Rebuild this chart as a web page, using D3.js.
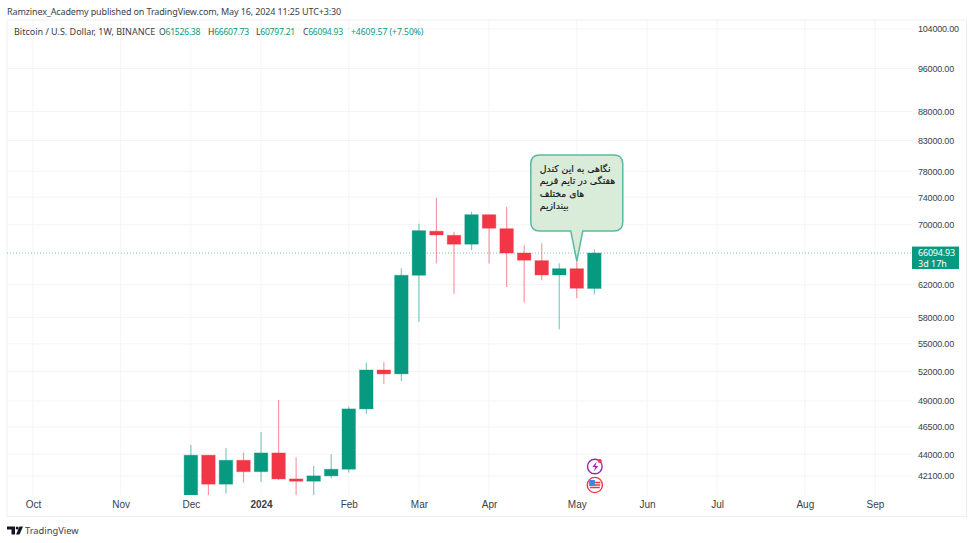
<!DOCTYPE html>
<html>
<head>
<meta charset="utf-8">
<script src="https://cdn.jsdelivr.net/npm/d3@7"></script>
<style>
    html, body { margin: 0; padding: 0; background: #fff; }
    svg { display: block; font-family: "Noto Sans", sans-serif; }
    .axis text { font-size: 10px; fill: #3a3e48; }
    .axis .domain { display: none; }
    .price-axis text { font-size: 9px; letter-spacing: -0.2px; }
    .legend-text { font-size: 8.6px; letter-spacing: -0.25px; }
</style>
</head>
<body>
<div id="chart"></div>
<script>
// weekly candles
var weeks = ["2023-12-04", "2023-12-11", "2023-12-18", "2023-12-25", "2024-01-01", "2024-01-08",
    "2024-01-15", "2024-01-22", "2024-01-29", "2024-02-05", "2024-02-12", "2024-02-19",
    "2024-02-26", "2024-03-04", "2024-03-11", "2024-03-18", "2024-03-25", "2024-04-01",
    "2024-04-08", "2024-04-15", "2024-04-22", "2024-04-29", "2024-05-06", "2024-05-13"];
var opens = [39970, 43910, 41410, 43460, 42470, 44110, 41850, 41660, 42110, 42680, 48220, 52170,
    51760, 63190, 69080, 68510, 67290, 71430, 69440, 66100, 65090, 63230, 64040, 61526.38];
var highs = [44830, 43910, 44530, 44140, 46030, 49110, 43700, 42970, 44000, 48440, 52930, 53030,
    64090, 70150, 73890, 69020, 71870, 71430, 72600, 67140, 67410, 64750, 65700, 66607.73];
var lows = [39970, 40200, 40630, 41540, 41600, 41770, 40280, 38550, 41910, 42390, 47730, 50720,
    51030, 57530, 64750, 60880, 66510, 64700, 61710, 59790, 62560, 56660, 60320, 60797.21];
var closes = [43910, 41410, 43460, 42470, 44110, 41850, 41660, 42110, 42680, 48220, 52170, 51760,
    63190, 69160, 68560, 67290, 71430, 69500, 66100, 65150, 63230, 64040, 61550, 66094.93];

// axis ticks
var priceTicks = [104000, 96000, 88000, 83000, 78000, 74000, 70000, 62000, 58000, 55000, 52000, 49000, 46500, 44000, 42100];
var timeTicks = ["2023-10-02", "2023-11-06", "2023-12-04", "2024-01-01", "2024-02-05", "2024-03-04",
    "2024-04-01", "2024-05-06", "2024-06-03", "2024-07-01", "2024-08-05", "2024-09-02"];
var timeLabels = ["Oct", "Nov", "Dec", "2024", "Feb", "Mar", "Apr", "May", "Jun", "Jul", "Aug", "Sep"];

// header texts
var publishedText = "Ramzinex_Academy published on TradingView.com, May 16, 2024 11:25 UTC+3:30";
var symbolText = "Bitcoin / U.S. Dollar, 1W, BINANCE";
var ohlcLabels = ["O", "H", "L", "C"];
var ohlcValues = ["61526.38", "66607.73", "60797.21", "66094.93"];
var changeText = "+4609.57 (+7.50%)";

// last price and note
var lastPrice = 66094.93;
var lastPriceLabel = "66094.93";
var countdownLabel = "3d 17h";
var noteLines = ["نگاهی به این کندل", "هفتگی در تایم فریم", "های مختلف", "بیندازیم"];

function init() {
    var w = 974;
    var h = 543;
    var left = 7;
    var right = 966.5;
    var top = 20;
    var plotRight = 912;
    var plotBottom = 495;
    var frameBottom = 516.5;
    var green = "#089981";
    var red = "#f23645";
    var gridColor = "#f3f4f7";
    var parseDate = d3.utcParse("%Y-%m-%d");

    var svg = d3.select("#chart").append("svg")
        .attr("width", w)
        .attr("height", h);

    var xScale = d3.scaleUtc()
        .domain([parseDate(timeTicks[0]), parseDate(timeTicks[timeTicks.length - 1])])
        .range([33, 875]);

    var yScale = d3.scaleLog()
        .domain([104000, 42100])
        .range([29, 476]);

    svg.append("clipPath").attr("id", "plot-clip")
        .append("rect")
        .attr("x", left)
        .attr("y", top)
        .attr("width", plotRight - left)
        .attr("height", plotBottom - top);

    // outer frame
    svg.append("path")
        .attr("d", "M" + left + "," + frameBottom + "V" + top + "H" + right + "V" + frameBottom + "H" + left)
        .attr("fill", "none")
        .attr("stroke", "#eeeff3");

    // grid
    svg.selectAll(".h-grid")
        .data(priceTicks)
        .enter()
        .append("line")
        .attr("class", "h-grid")
        .attr("x1", left)
        .attr("x2", plotRight)
        .attr("y1", function (d) { return yScale(d); })
        .attr("y2", function (d) { return yScale(d); })
        .attr("stroke", gridColor);

    svg.selectAll(".v-grid")
        .data(timeTicks)
        .enter()
        .append("line")
        .attr("class", "v-grid")
        .attr("x1", function (d) { return xScale(parseDate(d)); })
        .attr("x2", function (d) { return xScale(parseDate(d)); })
        .attr("y1", top)
        .attr("y2", plotBottom)
        .attr("stroke", gridColor);

    // axes
    var yAxis = d3.axisRight(yScale)
        .tickValues(priceTicks)
        .tickSize(0)
        .tickPadding(6)
        .tickFormat(d3.format(".2f"));

    svg.append("g")
        .attr("class", "axis price-axis")
        .attr("transform", "translate(" + plotRight + ",0)")
        .call(yAxis);

    var xAxis = d3.axisBottom(xScale)
        .tickValues(timeTicks.map(function (d) { return parseDate(d); }))
        .tickSize(0)
        .tickPadding(6)
        .tickFormat(function (d, i) { return timeLabels[i]; });

    var xAxisG = svg.append("g")
        .attr("class", "axis")
        .attr("transform", "translate(0," + plotBottom + ")")
        .call(xAxis);

    xAxisG.selectAll("text")
        .style("font-weight", function (d, i) { return timeLabels[i] === "2024" ? "700" : "400"; });

    // last price dotted line
    svg.append("line")
        .attr("x1", left)
        .attr("x2", plotRight)
        .attr("y1", yScale(lastPrice))
        .attr("y2", yScale(lastPrice))
        .attr("stroke", green)
        .attr("stroke-opacity", 0.55)
        .attr("stroke-dasharray", "1 2");

    // candles
    var candles = weeks.map(function (d, i) {
        return { date: parseDate(d), open: opens[i], high: highs[i], low: lows[i], close: closes[i] };
    });
    var bodyWidth = 13.5;
    var candleG = svg.append("g").attr("clip-path", "url(#plot-clip)");

    candleG.selectAll(".wick")
        .data(candles)
        .enter()
        .append("line")
        .attr("class", "wick")
        .attr("x1", function (d) { return xScale(d.date); })
        .attr("x2", function (d) { return xScale(d.date); })
        .attr("y1", function (d) { return yScale(d.high); })
        .attr("y2", function (d) { return yScale(d.low); })
        .attr("stroke", function (d) { return d.close >= d.open ? green : red; })
        .attr("stroke-opacity", 0.5)
        .attr("stroke-width", 1.2);

    candleG.selectAll(".body")
        .data(candles)
        .enter()
        .append("rect")
        .attr("class", "body")
        .attr("x", function (d) { return xScale(d.date) - bodyWidth / 2; })
        .attr("width", bodyWidth)
        .attr("y", function (d) { return yScale(Math.max(d.open, d.close)); })
        .attr("height", function (d) { return Math.abs(yScale(d.open) - yScale(d.close)); })
        .attr("fill", function (d) { return d.close >= d.open ? green : red; })
        .attr("stroke", function (d) { return d.close >= d.open ? green : red; })
        .attr("stroke-opacity", 0.35)
        .attr("stroke-width", 1);

    // note balloon, tip sits on the May 6 candle
    var tipX = xScale(parseDate("2024-05-06"));
    var tipY = yScale(65700) + 5;
    var bx = tipX - 46;
    var bw = 92;
    var by = tipY - 106;
    var bh = 76;
    var r = 9;
    svg.append("path")
        .attr("d", "M" + (bx + r) + "," + by + "H" + (bx + bw - r)
            + "Q" + (bx + bw) + "," + by + " " + (bx + bw) + "," + (by + r)
            + "V" + (by + bh - r)
            + "Q" + (bx + bw) + "," + (by + bh) + " " + (bx + bw - r) + "," + (by + bh)
            + "H" + (tipX + 6) + "L" + tipX + "," + tipY + "L" + (tipX - 6) + "," + (by + bh)
            + "H" + (bx + r)
            + "Q" + bx + "," + (by + bh) + " " + bx + "," + (by + bh - r)
            + "V" + (by + r)
            + "Q" + bx + "," + by + " " + (bx + r) + "," + by + "Z")
        .attr("fill", "#d8ecd9")
        .attr("stroke", "#5cb9a0")
        .attr("stroke-width", 1.5);

    svg.selectAll(".note-line")
        .data(noteLines)
        .enter()
        .append("text")
        .attr("class", "note-line")
        .attr("x", bx + 9)
        .attr("y", function (d, i) { return by + 17 + i * 12.3; })
        .attr("direction", "rtl")
        .attr("text-anchor", "end")
        .style("font-family", '"DejaVu Sans", sans-serif')
        .style("font-size", "9.3px")
        .attr("fill", "#131722")
        .attr("stroke", "#131722")
        .attr("stroke-width", 0.2)
        .text(function (d) { return d; });

    // last price tag
    svg.append("rect")
        .attr("x", plotRight)
        .attr("y", yScale(lastPrice) - 6.5)
        .attr("width", 47)
        .attr("height", 22.5)
        .attr("fill", green);

    var tagText = svg.append("text")
        .attr("y", yScale(lastPrice) + 3.2)
        .attr("fill", "#fff")
        .style("font-size", "9px");

    tagText.append("tspan")
        .attr("x", 918)
        .style("letter-spacing", "-0.2px")
        .text(lastPriceLabel);

    tagText.append("tspan")
        .attr("x", 918)
        .attr("dy", 10.3)
        .text(countdownLabel);

    // header
    svg.append("text")
        .attr("x", 7)
        .attr("y", 15)
        .attr("fill", "#3a3e48")
        .style("font-size", "9px")
        .style("letter-spacing", "-0.13px")
        .text(publishedText);

    svg.append("text")
        .attr("x", 14)
        .attr("y", 35)
        .attr("fill", "#3a3e48")
        .style("font-size", "9px")
        .text(symbolText);

    var ohlcX = [159, 208, 256, 303];
    ohlcLabels.forEach(function (label, i) {
        var t = svg.append("text")
            .attr("class", "legend-text")
            .attr("x", ohlcX[i])
            .attr("y", 35);
        t.append("tspan").attr("fill", "#3a3e48").text(label);
        t.append("tspan").attr("fill", green).text(ohlcValues[i]);
    });

    svg.append("text")
        .attr("class", "legend-text")
        .attr("x", 351)
        .attr("y", 35)
        .attr("fill", green)
        .style("letter-spacing", "-0.05px")
        .text(changeText);

    // event badges under the May 13 candle
    var iconX = xScale(parseDate("2024-05-13")) + 0.5;
    svg.append("circle").attr("cx", iconX).attr("cy", 466.5).attr("r", 7.3)
        .attr("fill", "#fff").attr("stroke", "#9c27b0").attr("stroke-width", 1.4);
    svg.append("path")
        .attr("d", "M" + (iconX + 2) + ",461.5l-4.5,5.5h3l-1.5,4.5l4.5,-5.5h-3z")
        .attr("fill", "#9c27b0");
    svg.append("circle").attr("cx", iconX + 5).attr("cy", 461).attr("r", 2)
        .attr("fill", "#f23645");

    svg.append("circle").attr("cx", iconX).attr("cy", 485).attr("r", 7.6)
        .attr("fill", "#fff").attr("stroke", "#f23645").attr("stroke-width", 1.4);
    svg.append("path")
        .attr("d", "M" + (iconX - 5.5) + ",482.5h11M" + (iconX - 5.5) + ",485h11M" + (iconX - 5) + ",487.5h10")
        .attr("stroke", "#f23645").attr("stroke-width", 1.4);
    svg.append("rect").attr("x", iconX - 5.5).attr("y", 480).attr("width", 5.5).attr("height", 6)
        .attr("fill", "#3d85e0");

    // logo and wordmark
    svg.append("path")
        .attr("d", "M7,526.5h8v8h-3.5v-5h-4.5z")
        .attr("fill", "#131722");
    svg.append("circle").attr("cx", 17.2).attr("cy", 528).attr("r", 1.5).attr("fill", "#131722");
    svg.append("path")
        .attr("d", "M19.5,526.5h3.5l-3.5,8h-3.5z")
        .attr("fill", "#131722");

    svg.append("text")
        .attr("x", 25)
        .attr("y", 533.5)
        .attr("fill", "#3a3e48")
        .style("font-size", "9.3px")
        .text("TradingView");
}

window.onload = init;
</script>
</body>
</html>
